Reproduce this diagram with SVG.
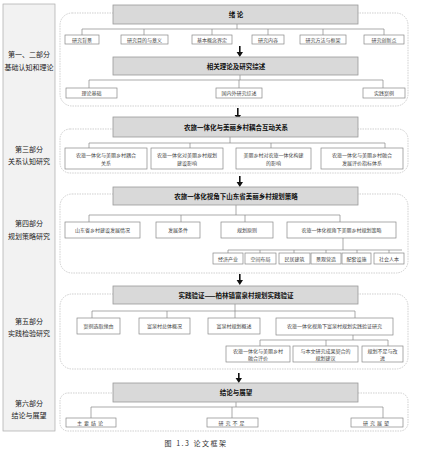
<svg xmlns="http://www.w3.org/2000/svg" width="427" height="455" viewBox="0 0 427 455">
<defs>
<style>
text{font-family:"Noto Sans CJK SC","Noto Sans",sans-serif;fill:#333}
.side{font-size:7px;text-anchor:middle;fill:#222}
.hd{fill:#d9d9d9;stroke:#999;stroke-width:0.8}
.ht{font-size:6.5px;font-weight:bold;text-anchor:middle;fill:#111}
.bx{fill:#fff;stroke:#888;stroke-width:0.7}
.bt{font-size:5px;text-anchor:middle;fill:#444}
.ct{fill:none;stroke:#bbb;stroke-width:0.7;stroke-dasharray:1.5,1}
.ln{fill:none;stroke:#888;stroke-width:0.7}
.ar{fill:#111}
</style>
<g id="arrowShape"></g>
</defs>
<g id="left">
<rect x="3" y="4" width="52" height="427" fill="#f2f2f2" stroke="#aaa" stroke-width="0.7"/>
<text class="side" x="29" y="57">第一、二部分</text>
<text class="side" x="29" y="70">基础认知和理论</text>
<text class="side" x="29" y="152">第三部分</text>
<text class="side" x="29" y="164">关系认知研究</text>
<text class="side" x="29" y="226">第四部分</text>
<text class="side" x="29" y="239">规划策略研究</text>
<text class="side" x="29" y="324">第五部分</text>
<text class="side" x="29" y="336">实践检验研究</text>
<text class="side" x="29" y="406">第六部分</text>
<text class="side" x="29" y="418">结论与展望</text>
</g>
<g id="containers">
<rect class="ct" x="60" y="13" width="348" height="93" rx="12"/>
<rect class="ct" x="60" y="129" width="348" height="44" rx="10"/>
<rect class="ct" x="60" y="194" width="348" height="79" rx="12"/>
<rect class="ct" x="60" y="294" width="348" height="75" rx="12"/>
<rect class="ct" x="60" y="393" width="348" height="38" rx="8"/>
</g>
<g id="connectors">
<path class="ln" d="M237 24V29M82 29H384M82 29V35M144 29V35M212 29V35M268 29V35M323 29V35M384 29V35"/>
<path class="ln" d="M240 75V80M89 80H383M89 80V88M239 80V88M383 80V88"/>
<path class="ln" d="M230 137V143M89 143H385M89 143V148M190 143V148M271 143V148M385 143V148"/>
<path class="ln" d="M236 205V215M89 215H340M89 215V222M181 215V222M245 215V222M340 215V222"/>
<path class="ln" d="M343 238V250M228 250H402M228 250V253M260 250V253M294 250V253M326 250V253M357 250V253M389 250V253"/>
<path class="ln" d="M235 304V311M92 311H355M92 311V318M167 311V318M235 311V318M355 311V318"/>
<path class="ln" d="M353 335V340M260 340H388M260 340V346M326 340V346M388 340V346"/>
<path class="ln" d="M236 402V407M91 407H383M91 407V418M232 407V418M383 407V418"/>
<g id="arrows" class="ar">
<path d="M239 46h1.6v6h2.4l-3.2 5l-3.2-5h2.4z"/>
<path d="M237 108h1.6v7h2.4l-3.2 5l-3.2-5h2.4z"/>
<path d="M239 176h1.6v6h2.4l-3.2 5l-3.2-5h2.4z"/>
<path d="M239 274h1.6v6h2.4l-3.2 5l-3.2-5h2.4z"/>
<path d="M238 373h1.6v5h2.4l-3.2 5l-3.2-5h2.4z"/>
</g>
</g>
<g id="s1">
<g id="h1"><rect class="hd" x="113" y="5" width="245" height="19"/><text class="ht" x="236" y="17">绪  论</text></g>
<g id="n1a"><rect class="bx" x="65" y="35" width="34" height="9"/><text class="bt" x="82" y="41.5">研究背景</text></g>
<g id="n1b"><rect class="bx" x="121" y="35" width="47" height="9"/><text class="bt" x="144.5" y="41.5">研究目的与意义</text></g>
<g id="n1c"><rect class="bx" x="192" y="35" width="40" height="9"/><text class="bt" x="212" y="41.5">基本概念界定</text></g>
<g id="n1d"><rect class="bx" x="252" y="35" width="32" height="9"/><text class="bt" x="268" y="41.5">研究内容</text></g>
<g id="n1e"><rect class="bx" x="300" y="35" width="46" height="9"/><text class="bt" x="323" y="41.5">研究方法与框架</text></g>
<g id="n1f"><rect class="bx" x="364" y="35" width="40" height="9"/><text class="bt" x="384" y="41.5">研究创新点</text></g>
<g id="h2"><rect class="hd" x="113" y="57" width="245" height="18"/><text class="ht" x="236" y="68.5">相关理论及研究综述</text></g>
<g id="n2a"><rect class="bx" x="66" y="88" width="51" height="10"/><text class="bt" x="91.5" y="95">理论基础</text></g>
<g id="n2b"><rect class="bx" x="216" y="88" width="46" height="10"/><text class="bt" x="239" y="95">国内外研究综述</text></g>
<g id="n2c"><rect class="bx" x="363" y="88" width="42" height="10"/><text class="bt" x="384" y="95">实践案例</text></g>
</g>
<g id="s2">
<g id="h3"><rect class="hd" x="113" y="117" width="245" height="20"/><text class="ht" x="236" y="129.5">农旅一体化与美丽乡村耦合互动关系</text></g>
<g id="n3a"><rect class="bx" x="65" y="148" width="82" height="21"/><text class="bt" x="106" y="157">农旅一体化与美丽乡村耦合</text><text class="bt" x="106" y="164.5">关系</text></g>
<g id="n3b"><rect class="bx" x="151" y="148" width="72" height="21"/><text class="bt" x="187" y="157">农旅一体化对美丽乡村规划</text><text class="bt" x="187" y="164.5">建设影响</text></g>
<g id="n3c"><rect class="bx" x="236" y="148" width="75" height="21"/><text class="bt" x="273.5" y="157">美丽乡村对农旅一体化构建</text><text class="bt" x="273.5" y="164.5">的影响</text></g>
<g id="n3d"><rect class="bx" x="321" y="148" width="82" height="21"/><text class="bt" x="362" y="157">农旅一体化与美丽乡村融合</text><text class="bt" x="362" y="164.5">发展评价指标体系</text></g>
</g>
<g id="s3">
<g id="h4"><rect class="hd" x="113" y="187" width="245" height="18"/><text class="ht" x="236" y="198.5">农旅一体化视角下山东省美丽乡村规划策略</text></g>
<g id="n4a"><rect class="bx" x="65" y="222" width="75" height="16"/><text class="bt" x="102.5" y="231.5">山东省乡村建设发展情况</text></g>
<g id="n4b"><rect class="bx" x="156" y="222" width="44" height="16"/><text class="bt" x="178" y="231.5">发展条件</text></g>
<g id="n4c"><rect class="bx" x="221" y="222" width="52" height="16"/><text class="bt" x="247" y="231.5">规划原则</text></g>
<g id="n4d"><rect class="bx" x="287" y="222" width="109" height="16"/><text class="bt" x="341.5" y="231.5">农旅一体化视角下美丽乡村规划策略</text></g>
<g id="n4e"><rect class="bx" x="213" y="253" width="30" height="11"/><text class="bt" x="228" y="260.5">经济产业</text></g>
<g id="n4f"><rect class="bx" x="245" y="253" width="31" height="11"/><text class="bt" x="260.5" y="260.5">空间布局</text></g>
<g id="n4g"><rect class="bx" x="279" y="253" width="31" height="11"/><text class="bt" x="294.5" y="260.5">民居建筑</text></g>
<g id="n4h"><rect class="bx" x="311" y="253" width="30" height="11"/><text class="bt" x="326" y="260.5">景观营造</text></g>
<g id="n4i"><rect class="bx" x="342" y="253" width="29" height="11"/><text class="bt" x="356.5" y="260.5">配套设施</text></g>
<g id="n4j"><rect class="bx" x="374" y="253" width="30" height="11"/><text class="bt" x="389" y="260.5">社会人本</text></g>
</g>
<g id="s4">
<g id="h5"><rect class="hd" x="113" y="286" width="245" height="18"/><text class="ht" x="236" y="297.5">实践验证——柏林镇富泉村规划实践验证</text></g>
<g id="n5a"><rect class="bx" x="77" y="318" width="43" height="16"/><text class="bt" x="98.5" y="327.5">案例选取缘由</text></g>
<g id="n5b"><rect class="bx" x="139" y="318" width="51" height="16"/><text class="bt" x="164.5" y="327.5">富泉村总体概况</text></g>
<g id="n5c"><rect class="bx" x="208" y="318" width="52" height="16"/><text class="bt" x="234" y="327.5">富泉村规划概述</text></g>
<g id="n5d"><rect class="bx" x="276" y="318" width="117" height="17"/><text class="bt" x="334.5" y="328">农旅一体化视角下富泉村规划实践验证研究</text></g>
<g id="n5e"><rect class="bx" x="226" y="346" width="64" height="16"/><text class="bt" x="258" y="352.5">农旅一体化与美丽乡村</text><text class="bt" x="258" y="359.5">融合评价</text></g>
<g id="n5f"><rect class="bx" x="293" y="346" width="65" height="16"/><text class="bt" x="325.5" y="352.5">与本文研究成果契合的</text><text class="bt" x="325.5" y="359.5">规划建议</text></g>
<g id="n5g"><rect class="bx" x="362" y="346" width="41" height="16"/><text class="bt" x="382.5" y="352.5">规划不足与改</text><text class="bt" x="382.5" y="359.5">进</text></g>
</g>
<g id="s5">
<g id="h6"><rect class="hd" x="113" y="383" width="245" height="19"/><text class="ht" x="236" y="395">结论与展望</text></g>
<g id="n6a"><rect class="bx" x="66" y="418" width="50" height="9"/><text class="bt" x="91" y="424.5" letter-spacing="2">主要结论</text></g>
<g id="n6b"><rect class="bx" x="207" y="418" width="51" height="9"/><text class="bt" x="232.5" y="424.5" letter-spacing="2">研究不足</text></g>
<g id="n6c"><rect class="bx" x="351" y="418" width="52" height="9"/><text class="bt" x="377" y="424.5" letter-spacing="2">研究展望</text></g>
</g>
<text x="196" y="446" font-size="7" text-anchor="middle" letter-spacing="1.5" fill="#333">图 1.3 论文框架</text>
</svg>
